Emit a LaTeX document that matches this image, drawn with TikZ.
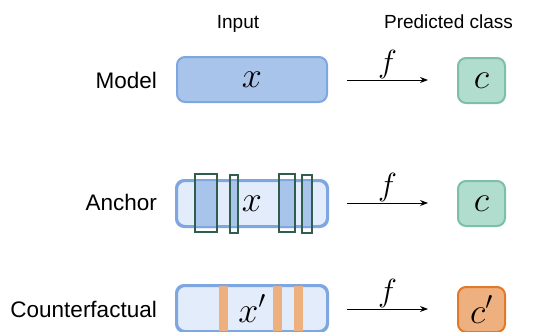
\documentclass[tikz,border=0pt]{standalone}
\usepackage{fix-cm}
\usepackage{fontspec}
\setmainfont{Liberation Sans}
\usetikzlibrary{arrows.meta}
\definecolor{bluefill}{HTML}{A9C4EB}
\definecolor{bluelight}{HTML}{E3ECFA}
\definecolor{bluestroke}{HTML}{7EA6E0}
\definecolor{greenfill}{HTML}{B1DDCE}
\definecolor{greenstroke}{HTML}{7DBFA8}
\definecolor{orangefill}{HTML}{EEB07F}
\definecolor{orangestroke}{HTML}{E0792A}
\definecolor{anchorline}{HTML}{2F5E4E}
\tikzset{
  inbox/.style={draw=bluestroke, line width=2pt, rounded corners=8pt, minimum width=150pt, minimum height=45pt, inner sep=0pt},
  clsbox/.style={line width=2pt, rounded corners=8pt, minimum width=47pt, minimum height=45pt, inner sep=0pt},
  gcls/.style={clsbox, draw=greenstroke, fill=greenfill},
  ocls/.style={clsbox, draw=orangestroke, fill=orangefill},
  rowlabel/.style={font=\fontsize{22.5}{26}\selectfont, anchor=base east, inner sep=0pt},
  headlabel/.style={font=\fontsize{19}{22}\selectfont, anchor=base, inner sep=0pt},
  mathtxt/.style={font=\fontsize{36}{36}\selectfont},
  farrow/.style={-{Stealth[length=8pt,width=6pt]}, line width=0.9pt, black},
  flabel/.style={font=\fontsize{32}{32}\selectfont, above, inner sep=1pt},
  anchorrect/.style={draw=anchorline, line width=1.3pt},
  cfbar/.style={fill=orangefill}
}
\begin{document}
\begin{tikzpicture}[x=1pt, y=-1pt]
\useasboundingbox (0,0) rectangle (555,332);
% headers
\node[headlabel] (hin) at (238,28) {Input};
\node[headlabel] (hcls) at (448.5,28) {Predicted class};
% row labels
\node[rowlabel] (lmodel) at (157,88) {Model};
\node[rowlabel] (lanchor) at (157,210) {Anchor};
\node[rowlabel] (lcf) at (157,317) {Counterfactual};
% Model row
\node[inbox, fill=bluefill] (xm) at (252,79.5) {};
\node[mathtxt] at (xm.center) {$x$};
\coordinate (m1) at (347,80);
\coordinate (m2) at (428,80);
\draw[farrow] (m1) -- node[flabel] {$f$} (m2);
\node[gcls] (cm) at (481.5,80.5) {};
\node[mathtxt] at (cm.center) {$c$};
% Anchor row
\node[inbox, fill=bluelight] (xa) at (252,203.5) {};
\begin{scope}
  \clip[rounded corners=8pt] ([shift={(1pt,-1pt)}]xa.south west) rectangle ([shift={(-1pt,1pt)}]xa.north east);
  \fill[bluefill] (195,170) rectangle (217,240);
  \fill[bluefill] (230,170) rectangle (238,240);
  \fill[bluefill] (279,170) rectangle (295,240);
  \fill[bluefill] (302,170) rectangle (312,240);
\end{scope}
\draw[draw=bluestroke, line width=2pt, rounded corners=8pt] (xa.south west) rectangle (xa.north east);
\draw[anchorrect] (195,174) rectangle (217,232);
\draw[anchorrect] (230,175) rectangle (238,233);
\draw[anchorrect] (279,174) rectangle (295,232);
\draw[anchorrect] (302,175) rectangle (312,233);
\node[mathtxt] at (xa.center) {$x$};
\coordinate (a1) at (347,203);
\coordinate (a2) at (428,203);
\draw[farrow] (a1) -- node[flabel] {$f$} (a2);
\node[gcls] (ca) at (481.5,203.5) {};
\node[mathtxt] at (ca.center) {$c$};
% Counterfactual row
\node[inbox, fill=bluelight] (xc) at (252,308.5) {};
\begin{scope}
  \clip ([shift={(0pt,-1pt)}]xc.south west) rectangle ([shift={(0pt,1pt)}]xc.north east);
  \fill[orangefill] (219,280) rectangle (228,340);
  \fill[orangefill] (273,280) rectangle (282,340);
  \fill[orangefill] (294,280) rectangle (303,340);
\end{scope}
\draw[draw=bluestroke, line width=2pt, rounded corners=8pt] (xc.south west) rectangle (xc.north east);
\node[mathtxt] at (xc.center) {$x'$};
\coordinate (c1) at (347,309);
\coordinate (c2) at (428,309);
\draw[farrow] (c1) -- node[flabel] {$f$} (c2);
\node[ocls] (cc) at (481.5,309.5) {};
\node[mathtxt] at (cc.center) {$c'$};
\end{tikzpicture}
\end{document}
